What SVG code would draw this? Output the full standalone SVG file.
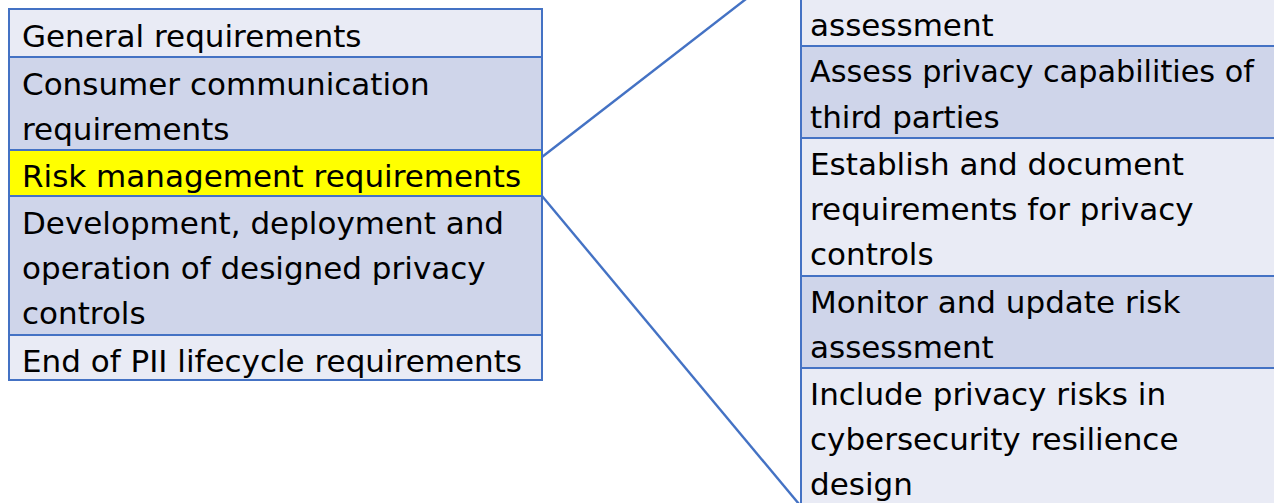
<svg xmlns="http://www.w3.org/2000/svg" width="1274" height="503" viewBox="0 0 1274 503">
  <style>
    .cell { stroke: #4472C4; stroke-width: 2; }
    .light { fill: #E9EBF5; }
    .dark { fill: #CFD5EA; }
    .hl { fill: #FFFF00; }
    .t { font-family: "DejaVu Sans", "Liberation Sans", sans-serif; font-size: 31px; fill: #000000; }
    .conn { stroke: #4472C4; stroke-width: 2.4; fill: none; }
  </style>
  <rect x="0" y="0" width="1274" height="503" fill="#FFFFFF"/>

  <g id="left-general">
    <rect class="cell light" x="9" y="9" width="533" height="48"/>
    <text class="t" x="22" y="47">General requirements</text>
  </g>
  <g id="left-consumer">
    <rect class="cell dark" x="9" y="57" width="533" height="93"/>
    <text class="t" x="22" y="95">Consumer communication</text>
    <text class="t" x="22" y="140">requirements</text>
  </g>
  <g id="left-risk">
    <rect class="cell hl" x="9" y="150" width="533" height="46"/>
    <text class="t" x="22" y="187">Risk management requirements</text>
  </g>
  <g id="left-development">
    <rect class="cell dark" x="9" y="196" width="533" height="139"/>
    <text class="t" x="22" y="234">Development, deployment and</text>
    <text class="t" x="22" y="279">operation of designed privacy</text>
    <text class="t" x="22" y="324">controls</text>
  </g>
  <g id="left-end">
    <rect class="cell light" x="9" y="335" width="533" height="45"/>
    <text class="t" x="22" y="372">End of PII lifecycle requirements</text>
  </g>

  <g id="right-risk-assessment">
    <rect class="cell light" x="801" y="-10" width="500" height="56"/>
    <text class="t" x="810" y="36">assessment</text>
  </g>
  <g id="right-third-parties">
    <rect class="cell dark" x="801" y="46" width="500" height="92"/>
    <text class="t" x="810" y="82" textLength="444" lengthAdjust="spacingAndGlyphs">Assess privacy capabilities of</text>
    <text class="t" x="810" y="128">third parties</text>
  </g>
  <g id="right-establish">
    <rect class="cell light" x="801" y="138" width="500" height="138"/>
    <text class="t" x="810" y="175">Establish and document</text>
    <text class="t" x="810" y="220">requirements for privacy</text>
    <text class="t" x="810" y="265">controls</text>
  </g>
  <g id="right-monitor">
    <rect class="cell dark" x="801" y="276" width="500" height="92"/>
    <text class="t" x="810" y="313">Monitor and update risk</text>
    <text class="t" x="810" y="358">assessment</text>
  </g>
  <g id="right-include">
    <rect class="cell light" x="801" y="368" width="500" height="160"/>
    <text class="t" x="810" y="405">Include privacy risks in</text>
    <text class="t" x="810" y="450">cybersecurity resilience</text>
    <text class="t" x="810" y="495">design</text>
  </g>

  <g id="connectors">
    <line class="conn" x1="542" y1="157" x2="746" y2="-1"/>
    <line class="conn" x1="542" y1="196" x2="799" y2="504"/>
  </g>
</svg>
